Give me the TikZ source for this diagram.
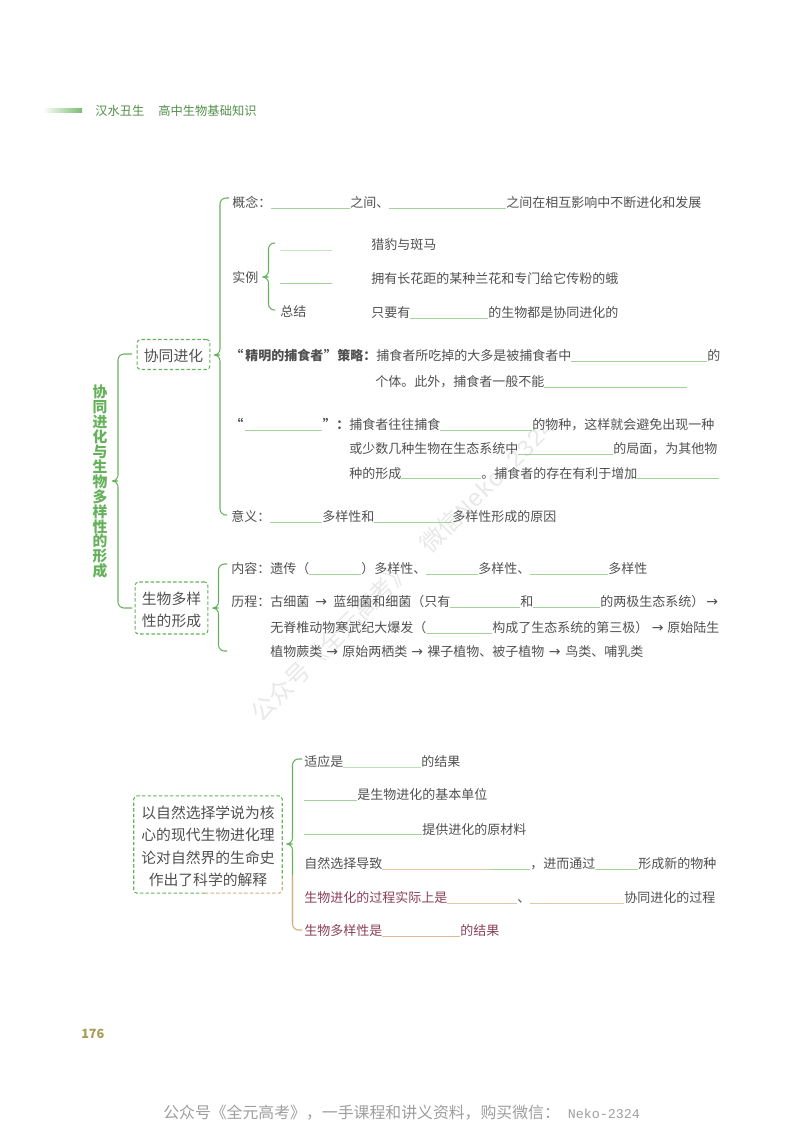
\documentclass[tikz,border=0pt]{standalone}
\usepackage{fontspec}
\setmainfont{Noto Sans CJK SC}
\newfontfamily\latinmono{Liberation Mono}
\newfontfamily\arrowfont{DejaVu Sans}
\usetikzlibrary{calc}

\definecolor{inkgrey}{HTML}{505050}
\definecolor{inkred}{HTML}{8A3F58}
\definecolor{leafgreen}{HTML}{66B25C}
\definecolor{blankgreen}{HTML}{A3D29B}
\definecolor{softorange}{HTML}{D8AD7E}
\definecolor{pagegold}{HTML}{A89B55}

% one blank of the exercise, its width in pixels of the page
\newcommand{\blank}[2][blankgreen]{\textcolor{#1}{\rule[-0.6pt]{\dimexpr #2pt*3/4\relax}{0.6pt}}}
\newcommand{\stepto}[1]{\makebox[\dimexpr #1pt*3/4\relax]{{\arrowfont\fontsize{10.5}{12}\selectfont →}}}
\newcommand{\quotebox}[3][c]{\makebox[\dimexpr #2pt*3/4\relax][#1]{#3}}
\newcommand{\treebrace}[3]{\draw[bracket] (#1) -| ($(#2)+(6,0)$) -- (#2) -- ($(#2)+(6,0)$) |- (#3);}

\tikzset{
  bracket/.style={draw=leafgreen,line width=0.8pt,rounded corners=4.5pt},
  linetext/.style={anchor=base west,inner sep=0pt,text=inkgrey,font=\fontsize{9.75}{12}\selectfont},
  topicbox/.style={draw=leafgreen,line width=0.8pt,dash pattern=on 2.6pt off 1.6pt,rounded corners=2.5pt,inner sep=0pt,
    text=inkgrey,align=center,font=\fontsize{11.1}{16.4}\selectfont},
  markline/.style={line width=0.8pt,dash pattern=on 2.6pt off 1.6pt,rounded corners=2.5pt}
}

\begin{document}
\begin{tikzpicture}[x=0.75pt,y=0.75pt,yscale=-1,xscale=1]
\useasboundingbox (0,0) rectangle (800,1132);

% Watermark
\draw (261,724) node (waterline) [anchor=base west,inner sep=0pt,rotate=45,text=black!9,font=\fontsize{18}{20}\selectfont] {公众号《全元高考》\hspace{1em}微信{\latinmono Neko-2324}};

% Running head
\shade [left color=white,right color=leafgreen!85] (42,108) rectangle (82,112.5);
\draw (95,115.5) node (runninghead) [linetext,text=leafgreen!80!black,font=\fontsize{9.2}{12}\selectfont] {汉水丑生\hspace{1.15em}高中生物基础知识};

% Title and first level
\draw (100,385) node (maintitle) [anchor=north,inner sep=0pt,align=center,text=leafgreen,font=\fontsize{11.1}{11.18}\bfseries\selectfont] {协\\同\\进\\化\\与\\生\\物\\多\\样\\性\\的\\形\\成};
\draw (173.5,354.5) node (xtbox) [topicbox,minimum width=54.5pt,minimum height=22.5pt] {\rule{0pt}{11.3pt}协同进化};
\draw (171.5,608) node (swbox) [topicbox,minimum width=54.5pt,minimum height=39pt] {\rule{0pt}{12.8pt}生物多样\\性的形成};

\coordinate (rootTop) at (132,354);
\coordinate (rootTip) at (112,481);
\coordinate (rootEnd) at (132,608);
\treebrace{rootTop}{rootTip}{rootEnd}

\coordinate (xtTop) at (229,198);
\coordinate (xtTip) at (214,355);
\coordinate (xtEnd) at (227,515);
\treebrace{xtTop}{xtTip}{xtEnd}

\coordinate (shiliTop) at (275,243);
\coordinate (shiliTip) at (262.5,277);
\coordinate (shiliEnd) at (275,310);
\treebrace{shiliTop}{shiliTip}{shiliEnd}

\coordinate (swTop) at (227,564);
\coordinate (swTip) at (212.5,608);
\coordinate (swEnd) at (227,651);
\treebrace{swTop}{swTip}{swEnd}

% Text Node
\draw (232,207.5) node (gainian) [linetext] {概念：\hspace{0pt}\blank{79}之间、\blank{117}之间在相互影响中不断进化和发展};
% Text Node
\draw (232,282.5) node (shili) [linetext] {实例};
\draw (280,250) node (blankone) [linetext] {\blank[blankgreen!60]{52}};
\draw (280,283) node (blanktwo) [linetext] {\blank{52}};
\draw (280,316.5) node (zongjie) [linetext] {总结};
\draw (371,249.5) node (lieyu) [linetext] {猎豹与斑马};
\draw (371,283.5) node (lanhua) [linetext] {拥有长花距的某种兰花和专门给它传粉的蛾};
\draw (371,317.5) node (zhiyao) [linetext] {只要有\blank{78}的生物都是协同进化的};
% Text Node
\draw (236,360.5) node (jingming) [linetext] {\bfseries\quotebox[l]{9}{\hspace{-4.5pt}“}精明的捕食者\quotebox{14}{”}策略：\mdseries 捕食者所吃掉的大多是被捕食者中\blank{136}的};
\draw (375,386.5) node (geti) [linetext] {个体。此外，捕食者一般不能\blank{143}};
% Text Node
\draw (236,429.5) node (shoulie) [linetext] {\bfseries\quotebox[l]{9}{\hspace{-4.5pt}“}\blank{77}\quotebox{14}{”}：\mdseries 捕食者往往捕食\blank{92}的物种，这样就会避免出现一种};
\draw (349,453.5) node (huoshao) [linetext] {或少数几种生物在生态系统中\blank{95}的局面，为其他物};
\draw (349,478) node (zhongde) [linetext] {种的形成\blank{80}。捕食者的存在有利于增加\blank{82}};
% Text Node
\draw (231,521.5) node (yiyi) [linetext] {意义：\blank{52}多样性和\blank{78}多样性形成的原因};
% Text Node
\draw (231,573.5) node (neirong) [linetext] {内容：遗传（\blank{52}）多样性、\blank{52}多样性、\blank{78}多样性};
\draw (231,606.5) node (licheng) [linetext] {历程：古细菌\stepto{24}蓝细菌和细菌（只有\blank{70}和\blank{67}的两极生态系统）\stepto{16}};
\draw (270,632.5) node (wujizhui) [linetext] {无脊椎动物寒武纪大爆发（\blank{66}构成了生态系统的第三极）\stepto{19}原始陆生};
\draw (270,656.5) node (zhiwu) [linetext] {植物蕨类\stepto{20}原始两栖类\stepto{20}裸子植物、被子植物\stepto{21}鸟类、哺乳类};

% Lower tree
\draw (208,844.5) node (jieshibox) [anchor=center,inner sep=0pt,minimum width=111pt,minimum height=72.5pt,text=inkgrey,align=center,font=\fontsize{11.1}{16.8}\selectfont] {\rule{0pt}{12pt}以自然选择学说为核\\心的现代生物进化理\\论对自然界的生命史\\作出了科学的解释};
\coordinate (jieshiSplit) at ($(jieshibox.south west)!0.48!(jieshibox.south east)$);
\coordinate (jieshiTurn) at ($(jieshibox.north east)!0.85!(jieshibox.south east)$);
\draw [markline,draw=leafgreen] (jieshiSplit) -| (jieshibox.north west) -| (jieshiTurn);
\draw [markline,draw=softorange] (jieshiSplit) -| (jieshiTurn);

\coordinate (sanTop) at (302,759);
\coordinate (sanTip) at (286.5,844);
\coordinate (sanEnd) at (302,930);
\coordinate (sanKink) at (292.5,875);
\treebrace{sanTop}{sanTip}{sanEnd}
\draw [bracket,draw=white,line width=1.4pt] (sanKink) |- (sanEnd);
\draw [bracket,draw=softorange] (sanKink) |- (sanEnd);

% Text Node
\draw (304,766.5) node (shiying) [linetext] {适应是\blank[blankgreen!70]{78}的结果};
\draw (304,799.5) node (zhongqun) [linetext] {\blank{53}是生物进化的基本单位};
\draw (304,834) node (tubian) [linetext] {\blank{118}提供进化的原材料};
\draw (304,868.5) node (daozhi) [linetext] {自然选择导致\blank[softorange!70]{108}\blank{40}，进而通过\blank{43}形成新的物种};
\draw (304,902.5) node (guocheng) [linetext,text=inkred] {生物进化的过程实际上是\blank[softorange!70]{70}\textcolor{inkgrey}{、}\blank[softorange!70]{94}\textcolor{inkgrey}{协同进化的过程}};
\draw (304,935.5) node (jieguo) [linetext,text=inkred] {生物多样性是\blank[softorange!80]{78}的结果};

% Page number and footer
\draw (81,1038.5) node (pagenum) [linetext,text=pagegold,font=\fontsize{9.5}{12}\bfseries\selectfont] {176};
\draw (163,1118) node (footer) [linetext,text=black!38,font=\fontsize{11.9}{14}\selectfont] {公众号《全元高考》，一手课程和讲义资料，购买微信：\hspace{6pt}{\latinmono\fontsize{10}{14}\selectfont Neko-2324}};

\end{tikzpicture}
\end{document}
